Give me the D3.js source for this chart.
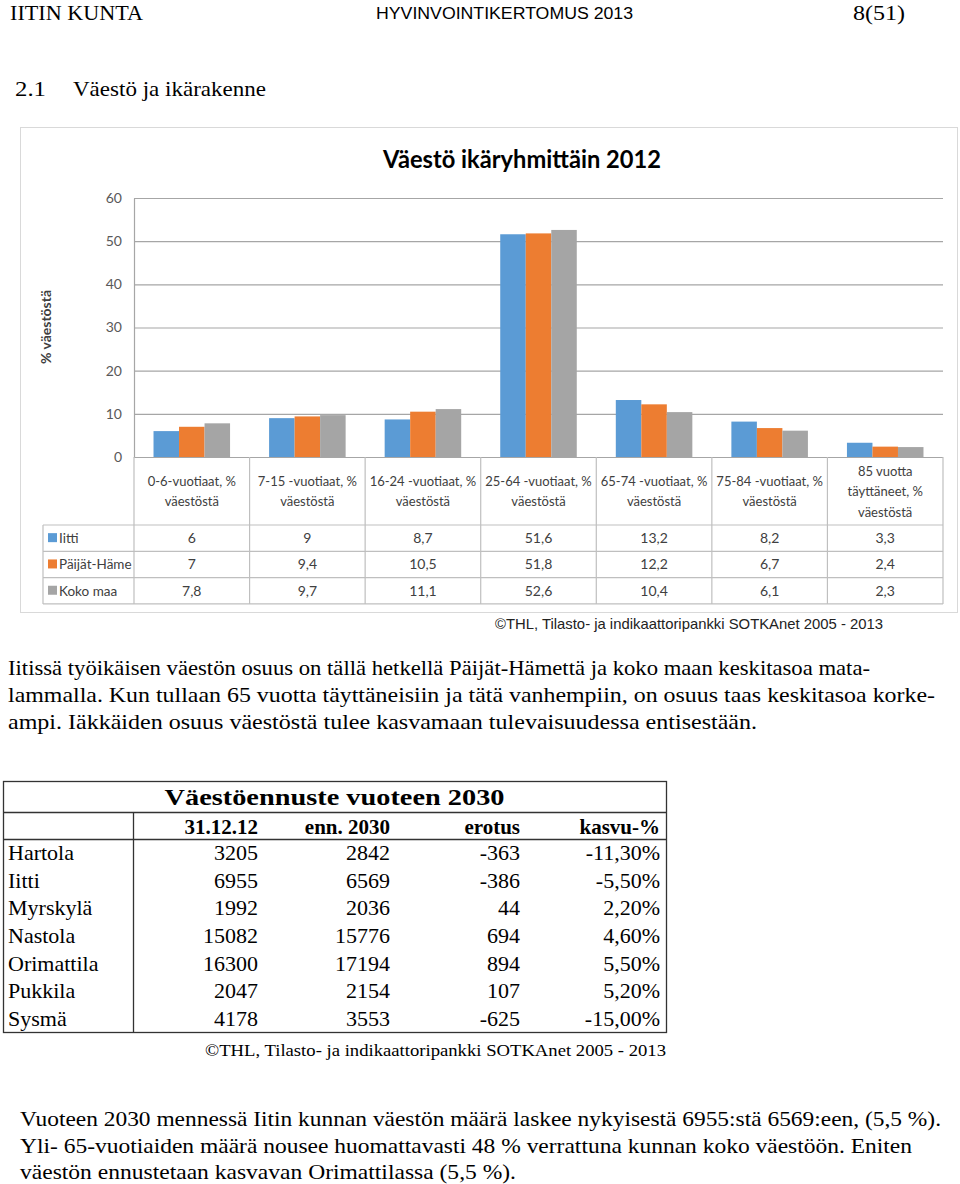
<!DOCTYPE html>
<html><head><meta charset="utf-8">
<script src="https://cdn.jsdelivr.net/npm/d3@7"></script>
<style>body{margin:0;background:#fff}svg{display:block}</style>
</head><body>
<svg id="page" width="960" height="1184"></svg>
<script>
// ---- Chart data ----
const categories = [
  ["0-6-vuotiaat, %","väestöstä"],
  ["7-15 -vuotiaat, %","väestöstä"],
  ["16-24 -vuotiaat, %","väestöstä"],
  ["25-64 -vuotiaat, %","väestöstä"],
  ["65-74 -vuotiaat, %","väestöstä"],
  ["75-84 -vuotiaat, %","väestöstä"],
  ["85 vuotta","täyttäneet, %","väestöstä"]
];
const seriesNames = ["Iitti","Päijät-Häme","Koko maa"];
const iitti      = [6, 9, 8.7, 51.6, 13.2, 8.2, 3.3];
const paijatHame = [7, 9.4, 10.5, 51.8, 12.2, 6.7, 2.4];
const kokoMaa    = [7.8, 9.7, 11.1, 52.6, 10.4, 6.1, 2.3];
const yTicks = [0,10,20,30,40,50,60];
const colors = ["#5b9bd5","#ed7d31","#a5a5a5"];

// ---- Forecast table data ----
const municipalities = ["Hartola","Iitti","Myrskylä","Nastola","Orimattila","Pukkila","Sysmä"];
const pop2012 = ["3205","6955","1992","15082","16300","2047","4178"];
const pop2030 = ["2842","6569","2036","15776","17194","2154","3553"];
const diff    = ["-363","-386","44","694","894","107","-625"];
const growth  = ["-11,30%","-5,50%","2,20%","4,60%","5,50%","5,20%","-15,00%"];
const tableHeaders = ["31.12.12","enn. 2030","erotus","kasvu-%"];

const svg = d3.select("#page");
const serif = "'Liberation Serif', serif";
const sans = "Lato, 'Open Sans', sans-serif";

function txt(x, y, s, opt={}) {
  const t = svg.append("text").attr("x", x).attr("y", y).text(s)
    .attr("font-family", opt.family || serif)
    .attr("font-size", opt.size || 21)
    .attr("fill", opt.fill || "#000")
    .attr("text-anchor", opt.anchor || "start");
  if (opt.weight) t.attr("font-weight", opt.weight);
  if (opt.len) t.attr("textLength", opt.len).attr("lengthAdjust", "spacingAndGlyphs");
  return t;
}

// ---- Page header ----
txt(10, 20, "IITIN KUNTA", {size: 22, len: 133});
txt(376, 19, "HYVINVOINTIKERTOMUS 2013", {family: "'Liberation Sans', Arial, sans-serif", size: 16, len: 257});
txt(853, 20, "8(51)", {size: 22, len: 52});
txt(15, 96, "2.1", {size: 22, len: 31});
txt(73, 96, "Väestö ja ikärakenne", {size: 22, len: 193});

// ---- Chart ----
svg.append("rect").attr("x", 20.5).attr("y", 127.5).attr("width", 937).attr("height", 485)
  .attr("fill", "#fff").attr("stroke", "#d9d9d9");

txt(522, 168, "Väestö ikäryhmittäin 2012", {family: sans, size: 24, weight: "bold", anchor: "middle", len: 278});

const plotL = 134, plotR = 943, plotT = 198, plotB = 457;
const x0 = d3.scaleBand().domain(d3.range(categories.length)).range([plotL, plotR]).paddingInner(0).paddingOuter(0);
const x1 = d3.scaleBand().domain(d3.range(seriesNames.length)).range([0, x0.bandwidth()]).paddingInner(0).paddingOuter(0.765);
const y = d3.scaleLinear().domain([0, 60]).range([plotB, plotT]);

// gridlines via axis
const grid = svg.append("g").attr("transform", `translate(${plotL},0)`)
  .call(d3.axisLeft(y).tickValues(yTicks).tickSize(-(plotR - plotL)).tickFormat(""));
grid.select(".domain").remove();
grid.selectAll("line").attr("stroke", "#a6a6a6").attr("stroke-width", 1.2);

// y tick labels
const yAxis = svg.append("g").attr("transform", `translate(${plotL},0)`)
  .call(d3.axisLeft(y).tickValues(yTicks).tickSize(0).tickPadding(12));
yAxis.select(".domain").attr("stroke", "#a6a6a6").attr("stroke-width", 1.2);
yAxis.selectAll("text").attr("font-family", sans).attr("font-size", 14).attr("fill", "#595959");

// y title
svg.append("text").attr("transform", "translate(51,327) rotate(-90)")
  .attr("text-anchor", "middle").attr("font-family", sans).attr("font-size", 14)
  .attr("font-weight", "bold").attr("fill", "#404040").text("% väestöstä");

// bars
const allSeries = [iitti, paijatHame, kokoMaa];
const groups = svg.append("g");
allSeries.forEach((vals, si) => {
  groups.selectAll(null).data(vals).enter().append("rect")
    .attr("x", (d, i) => x0(i) + x1(si))
    .attr("y", d => y(d))
    .attr("width", x1.bandwidth())
    .attr("height", d => y(0) - y(d))
    .attr("fill", colors[si]);
});

// data table under chart
const tblL = 43, hdrB = 525, rowH = 26.3;
const lineCol = "#bfbfbf";
const tg = svg.append("g");
[hdrB, hdrB + rowH, hdrB + 2 * rowH, hdrB + 3 * rowH].forEach(yy => {
  tg.append("line").attr("x1", tblL).attr("x2", plotR).attr("y1", yy).attr("y2", yy)
    .attr("stroke", lineCol).attr("stroke-width", 1.2);
});
d3.range(categories.length + 1).forEach(i => {
  const xx = plotL + i * x0.step();
  tg.append("line").attr("x1", xx).attr("x2", xx).attr("y1", plotB).attr("y2", hdrB + 3 * rowH)
    .attr("stroke", lineCol).attr("stroke-width", 1.2);
});
tg.append("line").attr("x1", tblL).attr("x2", tblL).attr("y1", hdrB).attr("y2", hdrB + 3 * rowH)
  .attr("stroke", lineCol).attr("stroke-width", 1.2);

// category labels
categories.forEach((lines, i) => {
  const cx = x0(i) + x0.bandwidth() / 2;
  const lh = 20.5;
  const startY = (plotB + hdrB) / 2 - (lines.length - 1) * lh / 2 + 5;
  lines.forEach((l, j) => {
    txt(cx, startY + j * lh, l, {family: sans, size: 13, fill: "#404040", anchor: "middle"});
  });
});

// legend rows + values
allSeries.forEach((vals, si) => {
  const cy = hdrB + rowH * si + rowH / 2;
  tg.append("rect").attr("x", 48).attr("y", cy - 5).attr("width", 9).attr("height", 9).attr("fill", colors[si]);
  txt(59, cy + 5, seriesNames[si], {family: sans, size: 13.5, fill: "#404040"});
  vals.forEach((v, i) => {
    txt(x0(i) + x0.bandwidth() / 2, cy + 5, String(v).replace(".", ","), {family: sans, size: 14, fill: "#404040", anchor: "middle"});
  });
});

txt(495, 629, "©THL, Tilasto- ja indikaattoripankki SOTKAnet 2005 - 2013", {family: "'Liberation Sans', Arial, sans-serif", size: 15, fill: "#222", len: 388});

// ---- Paragraph 1 ----
const para1 = [
  "Iitissä työikäisen väestön osuus on tällä hetkellä Päijät-Hämettä ja koko maan keskitasoa mata-",
  "lammalla. Kun tullaan 65 vuotta täyttäneisiin ja tätä vanhempiin, on osuus taas keskitasoa korke-",
  "ampi. Iäkkäiden osuus väestöstä tulee kasvamaan tulevaisuudessa entisestään."
];
const para1Len = [862, 927, 749];
para1.forEach((l, i) => txt(8, 675 + i * 27.2, l, {size: 21, len: para1Len[i]}));

// ---- Forecast table ----
const tL = 3, tR = 666, tT = 781, titleB = 812, headB = 839, tB = 1032, col1 = 133;
const dRow = (tB - headB) / municipalities.length;
const ft = svg.append("g");
ft.append("rect").attr("x", tL + 0.5).attr("y", tT + 0.5).attr("width", tR - tL).attr("height", tB - tT)
  .attr("fill", "none").attr("stroke", "#333").attr("stroke-width", 1.3);
[titleB, headB].forEach(yy => ft.append("line").attr("x1", tL).attr("x2", tR).attr("y1", yy + 0.5).attr("y2", yy + 0.5)
  .attr("stroke", "#333").attr("stroke-width", 1.3));
ft.append("line").attr("x1", col1 + 0.5).attr("x2", col1 + 0.5).attr("y1", titleB).attr("y2", tB)
  .attr("stroke", "#333").attr("stroke-width", 1.3);

txt((tL + tR) / 2, 805, "Väestöennuste vuoteen 2030", {size: 23, weight: "bold", anchor: "middle", len: 340});
const colRight = [258, 390, 520, 660];
tableHeaders.forEach((h, i) => txt(colRight[i], 834, h, {size: 21, weight: "bold", anchor: "end"}));
const colsData = [pop2012, pop2030, diff, growth];
municipalities.forEach((m, r) => {
  const by = headB + dRow * r + dRow / 2 + 7.5;
  txt(8, by, m, {size: 22});
  colsData.forEach((arr, c) => txt(colRight[c], by, arr[r], {size: 22, anchor: "end"}));
});

txt(666, 1056, "©THL, Tilasto- ja indikaattoripankki SOTKAnet 2005 - 2013", {size: 17, anchor: "end", len: 461});

// ---- Paragraph 2 ----
const para2 = [
  "Vuoteen 2030 mennessä Iitin kunnan väestön määrä laskee nykyisestä 6955:stä 6569:een, (5,5 %).",
  "Yli- 65-vuotiaiden määrä nousee huomattavasti 48 % verrattuna kunnan koko väestöön.  Eniten",
  "väestön ennustetaan kasvavan Orimattilassa (5,5 %)."
];
const para2Len = [921, 892, 496];
para2.forEach((l, i) => txt(20, 1126 + i * 26.5, l, {size: 21, len: para2Len[i]}));
</script>
</body></html>
